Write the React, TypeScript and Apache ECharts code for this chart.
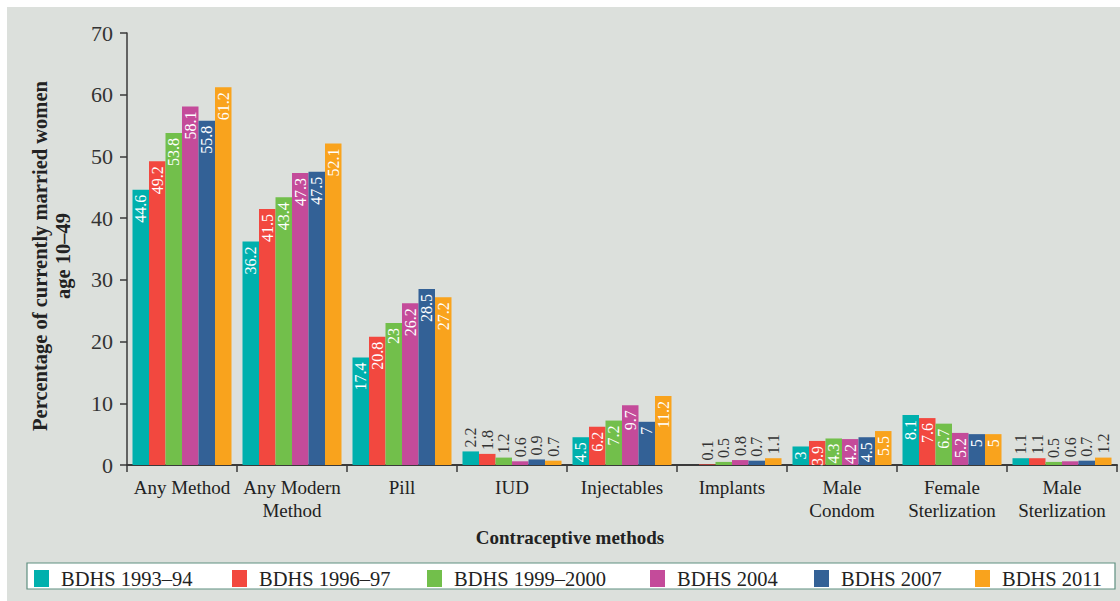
import React, { useEffect, useRef } from "react";
import * as echarts from "echarts";

// Contraceptive use among currently married women, by method and survey round
const categories = [
  "Any Method",
  "Any Modern\nMethod",
  "Pill",
  "IUD",
  "Injectables",
  "Implants",
  "Male\nCondom",
  "Female\nSterlization",
  "Male\nSterlization",
];

const seriesNames = [
  "BDHS 1993–94",
  "BDHS 1996–97",
  "BDHS 1999–2000",
  "BDHS 2004",
  "BDHS 2007",
  "BDHS 2011",
];

const bdhs1993: (number | null)[] = [44.6, 36.2, 17.4, 2.2, 4.5, null, 3, 8.1, 1.1];
const bdhs1996: (number | null)[] = [49.2, 41.5, 20.8, 1.8, 6.2, 0.1, 3.9, 7.6, 1.1];
const bdhs1999: (number | null)[] = [53.8, 43.4, 23, 1.2, 7.2, 0.5, 4.3, 6.7, 0.5];
const bdhs2004: (number | null)[] = [58.1, 47.3, 26.2, 0.6, 9.7, 0.8, 4.2, 5.2, 0.6];
const bdhs2007: (number | null)[] = [55.8, 47.5, 28.5, 0.9, 7, 0.7, 4.5, 5, 0.7];
const bdhs2011: (number | null)[] = [61.2, 52.1, 27.2, 0.7, 11.2, 1.1, 5.5, 5, 1.2];

const seriesValues = [bdhs1993, bdhs1996, bdhs1999, bdhs2004, bdhs2007, bdhs2011];

const colors = ["#00b0ad", "#f2483f", "#72bf4b", "#c44b9a", "#336196", "#f9a31d"];

// left edge of each legend entry
const legendLeft = [27, 225, 420, 643, 807, 968];

const FONT = "'Liberation Serif', 'DejaVu Serif', serif";

export default function App() {
  const ref = useRef<HTMLDivElement>(null);

  useEffect(() => {
    if (!ref.current) return;
    const chart = echarts.init(ref.current, undefined, { renderer: "svg" });

    const series = seriesValues.map((vals, si) => ({
      type: "bar",
      name: seriesNames[si],
      barGap: "0%",
      barCategoryGap: "10%",
      itemStyle: { color: colors[si] },
      data: vals.map((v) => {
        if (v === null) return { value: null };
        const inside = v >= 3;
        return {
          value: v,
          label: inside
            ? {
                show: true,
                position: "insideTop",
                rotate: 90,
                align: "right",
                verticalAlign: "middle",
                distance: 5,
                color: "#ffffff",
                fontFamily: FONT,
                fontSize: 16,
              }
            : {
                show: true,
                position: "top",
                rotate: 90,
                align: "left",
                verticalAlign: "middle",
                distance: 4,
                color: "#333333",
                fontFamily: FONT,
                fontSize: 16,
              },
        };
      }),
    }));

    const option = {
      animation: false,
      backgroundColor: "#dce0dc",
      textStyle: { fontFamily: FONT },
      grid: { left: 120, right: 3, top: 26, bottom: 136, containLabel: false },
      legend: seriesNames.map((name, i) => ({
        data: [name],
        left: legendLeft[i],
        top: 561,
        padding: 0,
        itemWidth: 15,
        itemHeight: 17,
        icon: "rect",
        selectedMode: false,
        textStyle: {
          fontFamily: FONT,
          fontSize: 20.5,
          color: "#222222",
          padding: [0, 0, 0, 7],
        },
      })),
      xAxis: {
        type: "category",
        data: categories,
        axisLine: { show: true, lineStyle: { color: "#3a3a3a", width: 2 } },
        axisTick: { show: true, length: 7, lineStyle: { color: "#3a3a3a", width: 1.5 } },
        axisLabel: {
          interval: 0,
          margin: 11,
          fontFamily: FONT,
          fontSize: 19,
          lineHeight: 23,
          color: "#222222",
        },
      },
      yAxis: {
        type: "value",
        min: 0,
        max: 70,
        interval: 10,
        splitLine: { show: false },
        axisLine: { show: true, lineStyle: { color: "#3a3a3a", width: 1.5 } },
        axisTick: { show: true, length: 7, lineStyle: { color: "#3a3a3a", width: 1.5 } },
        axisLabel: {
          margin: 14,
          fontFamily: FONT,
          fontSize: 22,
          color: "#333333",
        },
      },
      graphic: [
        {
          type: "rect",
          shape: { x: 20, y: 556, width: 1088, height: 26 },
          style: { fill: "#ffffff", stroke: "#5f8f80", lineWidth: 1.2 },
          z: -1,
        },
        {
          type: "text",
          x: 44,
          y: 249,
          rotation: Math.PI / 2,
          style: {
            text: "Percentage of currently married women\nage 10–49",
            fontFamily: FONT,
            fontSize: 20.5,
            fontWeight: "bold",
            lineHeight: 23,
            fill: "#222222",
            textAlign: "center",
            textVerticalAlign: "middle",
          },
        },
        {
          type: "text",
          x: 563,
          y: 530,
          style: {
            text: "Contraceptive methods",
            fontFamily: FONT,
            fontSize: 19,
            fontWeight: "bold",
            fill: "#222222",
            textAlign: "center",
            textVerticalAlign: "middle",
          },
        },
      ],
      series,
    };

    chart.setOption(option as any);
    return () => chart.dispose();
  }, []);

  return (
    <div
      style={{
        position: "fixed",
        left: 0,
        top: 0,
        width: 1120,
        height: 601,
        background: "#ffffff",
        overflow: "hidden",
      }}
    >
      <div
        ref={ref}
        style={{ position: "absolute", left: 7, top: 7, width: 1113, height: 594 }}
      />
    </div>
  );
}
